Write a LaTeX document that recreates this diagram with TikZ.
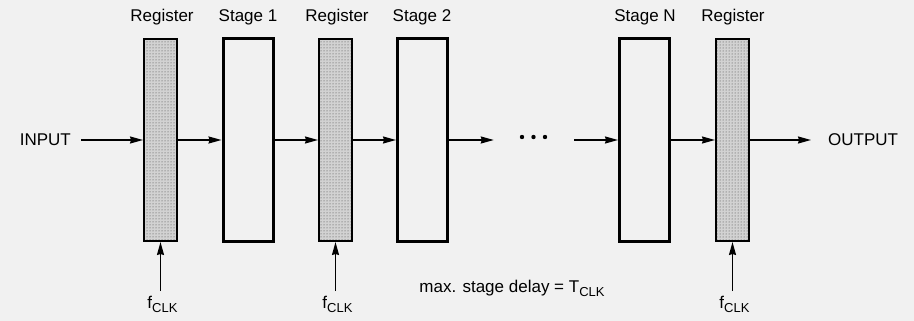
\documentclass[tikz,border=0pt]{standalone}
\usepackage{fontspec}
\setmainfont{Liberation Sans}
\usetikzlibrary{arrows.meta,patterns}
\definecolor{paper}{RGB}{241,241,241}
\newcommand\lowsub[1]{\raisebox{-0.45ex}{\fontsize{13}{15}\selectfont #1}}
\tikzset{
  x=1pt, y=-1pt,
  every node/.style={font=\fontsize{17}{20}\selectfont},
  regbox/.style={draw, line width=2pt, minimum width=33pt, minimum height=202pt,
    inner sep=0pt, preaction={fill=gray!35}, pattern=dots, pattern color=black!75},
  stagebox/.style={draw, line width=3pt, minimum width=50pt, minimum height=202pt,
    inner sep=0pt, fill=paper},
  flow/.style={line width=1.5pt, -{Stealth[length=13pt,width=7pt,inset=1pt]}},
  lbl/.style={inner sep=0pt},
}
\begin{document}
\begin{tikzpicture}
\fill[paper] (0,0) rectangle (914,321);
\useasboundingbox (0,0) rectangle (914,321);

% pipeline blocks
\node[regbox]   (r1) at (160.5,140) {};
\node[stagebox] (s1) at (248,140)   {};
\node[regbox]   (r2) at (335.5,140) {};
\node[stagebox] (s2) at (422.5,140) {};
\node[minimum width=80pt, inner sep=0pt] (dots) at (534,140) {};
\fill (522,137) circle (2.2pt) (533.5,137) circle (2.2pt) (545,137) circle (2.2pt);
\node[stagebox] (sn) at (644.5,140) {};
\node[regbox]   (r3) at (732.5,140) {};

% block titles
\node[lbl] at (162,17) {Register};
\node[lbl] at (248,17) {Stage 1};
\node[lbl] at (337,17) {Register};
\node[lbl] at (422,17) {Stage 2};
\node[lbl] at (645,17) {Stage N};
\node[lbl] at (733,17) {Register};

% input / output
\node[inner sep=0pt, anchor=east] (in)  at (71,140)  {INPUT};
\node[inner sep=0pt, anchor=west] (out) at (828,140) {OUTPUT};

% data flow
\draw[flow] ([xshift=10pt]in.east) -- (r1.west);
\draw[flow] (r1) -- (s1);
\draw[flow] (s1) -- (r2);
\draw[flow] (r2) -- (s2);
\draw[flow] (s2.east) -- (dots.west);
\draw[flow] (dots.east) -- (sn.west);
\draw[flow] (sn) -- (r3);
\draw[flow] (r3.east) -- ([xshift=-17pt]out.west);

% clock inputs
\foreach \r/\x in {r1/160.5, r2/335.5, r3/732.5}{
  \coordinate (c\r) at (\x,291);
  \draw[flow] (c\r) -- (\r.south);
  \node[lbl, anchor=north] at ([xshift=2pt,yshift=-5pt]c\r) {f\lowsub{CLK}};
}

\node[lbl] (delay) at (512,288) {max. stage delay = T\lowsub{CLK}};
\end{tikzpicture}
\end{document}
